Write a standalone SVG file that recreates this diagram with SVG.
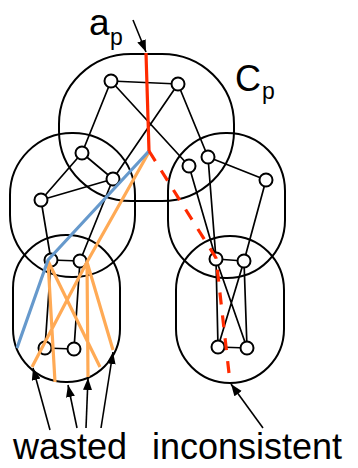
<svg xmlns="http://www.w3.org/2000/svg" width="358" height="468" viewBox="0 0 358 468">
<style>
.cl{fill:none;stroke:#000;stroke-width:2}
.nd{fill:#fff;stroke:#000;stroke-width:2}
.ed{stroke:#000;stroke-width:1.7;fill:none}
.ar{stroke:#000;stroke-width:1.6;fill:none;marker-end:url(#ah)}
.red{stroke:#ff2a00;stroke-width:3.2;fill:none}
.blue{stroke:#6699cc;stroke-width:3.2;fill:none}
.or{stroke:#ffaa55;stroke-width:3.2;fill:none}
.t{font-family:"Liberation Sans",Arial,sans-serif;fill:#000}
</style>
<defs>
<marker id="ah" markerWidth="13" markerHeight="10" refX="12" refY="4.5" orient="auto" markerUnits="userSpaceOnUse">
<path d="M0,0 L12,4.5 L0,9 Z" fill="#000"/>
</marker>
</defs>
<g id="clusters">
<g id="cluster-top"><rect class="cl" x="59" y="54" width="175" height="147" rx="72" ry="70"/></g>
<g id="cluster-left-mid"><rect class="cl" x="10" y="133" width="125" height="144" rx="62" ry="62"/></g>
<g id="cluster-right-mid"><rect class="cl" x="168" y="133" width="117" height="145" rx="58" ry="58"/></g>
<g id="cluster-left-bot"><rect class="cl" x="13" y="235" width="107" height="147" rx="53" ry="53"/></g>
<g id="cluster-right-bot"><rect class="cl" x="176" y="236" width="108" height="147" rx="54" ry="54"/></g>
</g>
<g id="connectors">
<path class="ed" d="M111,81 L178,84 M111,81 L82,153 M111,81 L189,166 M178,84 L113,179 M178,84 L208,157
M82,153 L113,179 M82,153 L41,200 M41,200 L113,179 M41,200 L51,260 M113,179 L80,261
M208,157 L266,180 M189,166 L216,259 M208,157 L216,259 M266,180 L244,261
M216,259 L244,261 M216,259 L218,347 M216,259 L247,348 M244,261 L218,347 M244,261 L247,348 M218,347 L247,348
M51,260 L80,261 M51,260 L45,348 M80,261 L74,349 M45,348 L74,349"/>
</g>
<g id="nodes">
<g id="n1"><circle class="nd" cx="111" cy="81" r="6.5"/></g>
<g id="n2"><circle class="nd" cx="178" cy="84" r="6.5"/></g>
<g id="n3"><circle class="nd" cx="82" cy="153" r="6.5"/></g>
<g id="n4"><circle class="nd" cx="113" cy="179" r="6.5"/></g>
<g id="n5"><circle class="nd" cx="41" cy="200" r="6.5"/></g>
<g id="n6"><circle class="nd" cx="189" cy="166" r="6.5"/></g>
<g id="n7"><circle class="nd" cx="208" cy="157" r="6.5"/></g>
<g id="n8"><circle class="nd" cx="266" cy="180" r="6.5"/></g>
<g id="n9"><circle class="nd" cx="51" cy="260" r="6.5"/></g>
<g id="n10"><circle class="nd" cx="80" cy="261" r="6.5"/></g>
<g id="n11"><circle class="nd" cx="45" cy="348" r="6.5"/></g>
<g id="n12"><circle class="nd" cx="74" cy="349" r="6.5"/></g>
<g id="n13"><circle class="nd" cx="216" cy="259" r="6.5"/></g>
<g id="n14"><circle class="nd" cx="244" cy="261" r="6.5"/></g>
<g id="n15"><circle class="nd" cx="218" cy="347" r="6.5"/></g>
<g id="n16"><circle class="nd" cx="247" cy="348" r="6.5"/></g>
</g>
<g id="paths">
<path class="or" d="M149,152 L87,262 M48,261 L55,382 M48,261 L100,367 M87,262 L32,367 M87,262 L88,377 M87,262 L113,350"/>
<path class="blue" d="M149,151 L48,260 L17,348"/>
<path class="red" d="M146,53 L149,151"/>
<path class="red" stroke-dasharray="12 11" d="M149,151 L216,258 L230,382"/>
</g>
<g id="arrows">
<path class="ar" d="M133,20 L146,52"/>
<path class="ar" d="M50,430 L33,368"/>
<path class="ar" d="M77,428 L68,385"/>
<path class="ar" d="M86,428 L88,378"/>
<path class="ar" d="M101,428 L113,352"/>
<path class="ar" d="M263,428 L231,384"/>
</g>
<g id="labels">
<text class="t" x="89" y="35" font-size="37">a</text>
<text class="t" x="110" y="45" font-size="23">p</text>
<text class="t" x="235" y="91" font-size="36">C</text>
<text class="t" x="262" y="99" font-size="23">p</text>
<text class="t" x="13" y="459" font-size="36">wasted</text>
<text class="t" x="152" y="459" font-size="36">inconsistent</text>
</g>
</svg>
